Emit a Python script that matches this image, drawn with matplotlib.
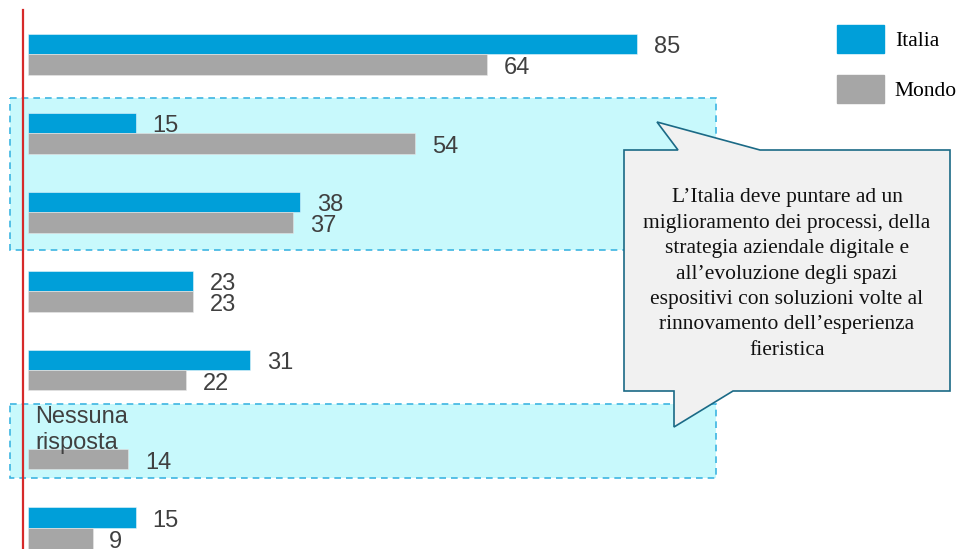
import numpy as np
import matplotlib.pyplot as plt
from matplotlib.patches import Rectangle, Polygon, Patch
from matplotlib.transforms import Affine2D

# --- DATI ---
italia = [85, 15, 38, 23, 31, None, 15]
mondo = [64, 54, 37, 23, 22, 14, 9]
series_names = ["Italia", "Mondo"]
callout_text = ("L\u2019Italia deve puntare ad un\n"
                "miglioramento dei processi, della\n"
                "strategia aziendale digitale e\n"
                "all\u2019evoluzione degli spazi\n"
                "espositivi con soluzioni volte al\n"
                "rinnovamento dell\u2019esperienza\n"
                "fieristica")
no_answer_text = "Nessuna\nrisposta"

# --- STILE ---
W, H = 959, 549
BLUE = "#009fd9"
GRAY = "#a6a6a6"
CYAN = "#c8f9fc"
CYAN_EDGE = "#3db5e2"
TEAL = "#1b6a86"
LABEL = "#404040"
PX_PER_UNIT = 7.17
X0 = 28      # pixel dove iniziano le barre
GROUP_PX = 79
Y0 = 54      # pixel del confine blu/grigio del primo gruppo
BAR_H = 20.5 / GROUP_PX

fig = plt.figure(figsize=(W / 100, H / 100), dpi=100)
ax = fig.add_axes([0, 0, 1, 1])
ax.set_xlim(-X0 / PX_PER_UNIT, (W - X0) / PX_PER_UNIT)
ax.set_ylim((H - Y0) / GROUP_PX, -Y0 / GROUP_PX)
ax.axis("off")

# trasformazione in pixel (origine in alto a sinistra) per le forme decorative
px = Affine2D().scale(1 / W, -1 / H).translate(0, 1) + fig.transFigure

# riquadri tratteggiati
for y_top, y_bot in [(98, 250), (404, 478)]:
    ax.add_patch(Rectangle((10, y_top), 706, y_bot - y_top, transform=px,
                           facecolor=CYAN, edgecolor=CYAN_EDGE, lw=1.2,
                           ls=(0, (4, 3)), zorder=1, clip_on=False))

label_kw = dict(xytext=(12, -2.5), textcoords="offset points", va="center",
                ha="left", fontsize=17, color=LABEL,
                family="Liberation Sans", zorder=5)

pos = np.arange(len(mondo))
for i in pos:
    if italia[i] is not None:
        ax.barh(i - BAR_H / 2, italia[i], height=BAR_H, color=BLUE,
                edgecolor="#e8f6fb", lw=0.4, zorder=3)
        ax.annotate(str(italia[i]), (italia[i], i - BAR_H / 2), **label_kw)
    ax.barh(i + BAR_H / 2, mondo[i], height=BAR_H, color=GRAY,
            edgecolor="#e8e8e8", lw=0.4, zorder=3)
    ax.annotate(str(mondo[i]), (mondo[i], i + BAR_H / 2), **label_kw)

ax.text(1.05, 4.76, no_answer_text, va="center", ha="left", fontsize=17,
        color=LABEL, family="Liberation Sans", linespacing=1.25, zorder=6)

# linea rossa verticale
ax.add_line(plt.Line2D([23, 23], [10, H], transform=px, color="#d62a2a",
                       lw=1.6, zorder=4, clip_on=False))

# fumetto
callout = Polygon([(624, 150), (678, 150), (657, 122), (760, 150), (950, 150),
                   (950, 391), (733, 391), (674, 427), (674, 391), (624, 391)],
                  closed=True, transform=px, facecolor="#f1f1f1",
                  edgecolor=TEAL, lw=1.2, zorder=7, clip_on=False)
ax.add_patch(callout)
fig.text(787 / W, 1 - 274 / H, callout_text, ha="center", va="center",
         fontsize=15.5, family="Liberation Serif", linespacing=1.46,
         color="#111111", zorder=8)

# legenda
handles = [Patch(color=BLUE), Patch(color=GRAY)]
fig.legend(handles, series_names, loc="upper left",
           bbox_to_anchor=(837 / W, 1 - 25 / H), frameon=False,
           borderpad=0, borderaxespad=0, handlelength=2.18,
           handleheight=1.62, handletextpad=0.5, labelspacing=1.02,
           prop={"family": "Liberation Serif", "size": 15.5})

fig.savefig("out.png", dpi=100)
